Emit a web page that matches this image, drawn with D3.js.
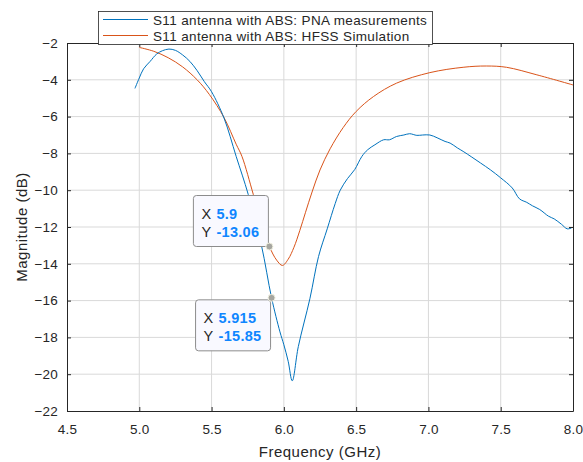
<!DOCTYPE html>
<html lang="en">
  <head>
    <meta charset="utf-8" />
    <title>S11 antenna with ABS</title>
    <script src="https://d3js.org/d3.v7.min.js"></script>
    <style>
      body {
        margin: 0;
        background: white;
      }
      text {
        font-family: "Liberation Sans", Arial, sans-serif;
        fill: #262626;
      }
      .tick-label {
        font-size: 13.5px;
        letter-spacing: 0.2px;
      }
      .axis-title {
        font-size: 15px;
        letter-spacing: 0.5px;
      }
      .legend-text {
        font-size: 13.5px;
        letter-spacing: 0.35px;
      }
      .grid line {
        stroke: #d9d9d9;
        stroke-width: 1;
      }
      .tip-label {
        font-size: 14.5px;
        letter-spacing: 0.3px;
      }
      .tip-value {
        font-size: 14.5px;
        letter-spacing: 0.3px;
        font-weight: bold;
        fill: #0f86ff;
      }
    </style>
  </head>
  <body>
    <svg width="583" height="462"></svg>
    <script>
      // PNA measurement (blue)
      const pnaFreq = [
        4.97, 5.0, 5.03, 5.075, 5.12, 5.16, 5.205, 5.25, 5.3, 5.35, 5.4, 5.45,
        5.5, 5.586, 5.67, 5.754, 5.845, 5.915, 5.973, 6.0, 6.03, 6.058, 6.1,
        6.18, 6.24, 6.3, 6.355, 6.39, 6.44, 6.49, 6.54, 6.58, 6.63, 6.69, 6.73,
        6.78, 6.83, 6.87, 6.92, 6.96, 7.01, 7.06, 7.115, 7.15, 7.2, 7.24, 7.3,
        7.36, 7.43, 7.5, 7.58, 7.63, 7.68, 7.72, 7.77, 7.83, 7.87, 7.92, 7.96,
        7.99,
      ];
      const pnaMag = [
        -4.47, -3.9, -3.4, -3.0, -2.6, -2.42, -2.33, -2.4, -2.65, -3.0, -3.5,
        -4.1, -4.65, -6.08, -8.16, -10.24, -13.0, -15.85, -17.7, -18.4, -19.3,
        -20.36, -18.5, -15.9, -13.6, -12.1, -10.73, -10.0, -9.37, -8.88, -8.16,
        -7.8, -7.53, -7.26, -7.26, -7.08, -7.0, -6.93, -7.02, -7.0, -7.0,
        -7.15, -7.35, -7.44, -7.7, -7.89, -8.2, -8.52, -8.9, -9.33, -9.88,
        -10.47, -10.66, -10.85, -11.05, -11.41, -11.56, -11.85, -12.1, -12.05,
      ];

      // HFSS simulation (orange)
      const hfssFreq = [
        5.0, 5.1, 5.2, 5.3, 5.4, 5.485, 5.586, 5.67, 5.71, 5.789, 5.85, 5.9,
        5.95, 5.99, 6.03, 6.07, 6.11, 6.15, 6.195, 6.25, 6.32, 6.41, 6.5, 6.62,
        6.78, 7.01, 7.24, 7.4, 7.54, 7.75, 8.0,
      ];
      const hfssMag = [
        -2.24, -2.45, -2.8, -3.3, -4.0, -4.8, -6.05, -7.5, -8.16, -10.24, -11.9,
        -13.06, -13.8, -14.09, -13.75, -13.1, -12.2, -11.2, -10.1, -8.9, -7.75,
        -6.6, -5.72, -4.91, -4.18, -3.61, -3.32, -3.25, -3.32, -3.73, -4.28,
      ];

      const seriesNames = [
        "S11 antenna with ABS: PNA measurements",
        "S11 antenna with ABS: HFSS Simulation",
      ];
      const seriesColors = ["#0072BD", "#D95319"];

      const xTicks = [4.5, 5, 5.5, 6, 6.5, 7, 7.5, 8];
      const yTicks = [-2, -4, -6, -8, -10, -12, -14, -16, -18, -20, -22];

      // data tips
      const tipX = [5.9, 5.915];
      const tipY = [-13.06, -15.85];
      const tipLabelX = ["5.9", "5.915"];
      const tipLabelY = ["-13.06", "-15.85"];

      const svg = d3.select("svg");
      const margin = { top: 43, right: 10, bottom: 51, left: 67 };
      const width = 583 - margin.left - margin.right;
      const height = 462 - margin.top - margin.bottom;

      const x = d3.scaleLinear().domain([4.5, 8]).range([0, width]);
      const y = d3.scaleLinear().domain([-22, -2]).range([height, 0]);

      const g = svg
        .append("g")
        .attr("transform", `translate(${margin.left},${margin.top})`);

      // grid
      const grid = g.append("g").attr("class", "grid");
      grid
        .selectAll(".gx")
        .data(xTicks.slice(1, -1))
        .join("line")
        .attr("x1", (d) => x(d))
        .attr("x2", (d) => x(d))
        .attr("y1", 0)
        .attr("y2", height);
      grid
        .selectAll(".gy")
        .data(yTicks.slice(1, -1))
        .join("line")
        .attr("x1", 0)
        .attr("x2", width)
        .attr("y1", (d) => y(d))
        .attr("y2", (d) => y(d));

      // curves
      const pna = pnaFreq.map((f, i) => [f, pnaMag[i]]);
      const hfss = hfssFreq.map((f, i) => [f, hfssMag[i]]);

      const line = d3
        .line()
        .x((d) => x(d[0]))
        .y((d) => y(d[1]))
        .curve(d3.curveCatmullRom.alpha(0.5));

      g.append("path")
        .datum(hfss)
        .attr("fill", "none")
        .attr("stroke", seriesColors[1])
        .attr("stroke-width", 1)
        .attr("d", line);

      g.append("path")
        .datum(pna)
        .attr("fill", "none")
        .attr("stroke", seriesColors[0])
        .attr("stroke-width", 1)
        .attr("d", line);

      // axes, MATLAB style box with inward ticks
      const axisColor = "#262626";
      const xAxis = g
        .append("g")
        .attr("transform", `translate(0,${height})`)
        .call(d3.axisBottom(x).tickValues(xTicks).tickSizeInner(-4).tickSizeOuter(0).tickPadding(13));
      const xTop = g
        .append("g")
        .call(d3.axisTop(x).tickValues(xTicks).tickSizeInner(-4).tickSizeOuter(0).tickFormat(""));
      const yAxis = g
        .append("g")
        .call(d3.axisLeft(y).tickValues(yTicks).tickSizeInner(-4).tickSizeOuter(0).tickPadding(9));
      const yRight = g
        .append("g")
        .attr("transform", `translate(${width},0)`)
        .call(d3.axisRight(y).tickValues(yTicks).tickSizeInner(-4).tickSizeOuter(0).tickFormat(""));

      [xAxis, xTop, yAxis, yRight].forEach((a) => {
        a.select(".domain").attr("stroke", axisColor);
        a.selectAll(".tick line").attr("stroke", axisColor);
        a.selectAll(".tick text")
          .attr("class", "tick-label")
          .attr("fill", axisColor);
        a.attr("font-family", null).attr("font-size", null);
      });

      // axis titles
      svg
        .append("text")
        .attr("class", "axis-title")
        .attr("x", margin.left + width / 2)
        .attr("y", 457)
        .attr("text-anchor", "middle")
        .text("Frequency (GHz)");

      svg
        .append("text")
        .attr("class", "axis-title")
        .attr("transform", `translate(27,${margin.top + height / 2}) rotate(-90)`)
        .attr("text-anchor", "middle")
        .text("Magnitude (dB)");

      // data tips
      const tips = g.append("g");
      tipX.forEach((tx, i) => {
        const px = x(tx),
          py = y(tipY[i]);
        const bw = 75,
          bh = 51;
        // first tip box sits above-left of marker, second below-left
        const bx = px - bw - 1;
        const by = i === 0 ? py - bh : py + 2;
        tips
          .append("rect")
          .attr("x", bx)
          .attr("y", by)
          .attr("width", bw)
          .attr("height", bh)
          .attr("rx", 3)
          .attr("fill", "#f9f9ff")
          .attr("stroke", "#8c8c8c")
          .attr("stroke-width", 1);
        tips
          .append("text")
          .attr("class", "tip-label")
          .attr("x", bx + 8)
          .attr("y", by + 23)
          .text("X");
        tips
          .append("text")
          .attr("class", "tip-value")
          .attr("x", bx + 23)
          .attr("y", by + 23)
          .text(tipLabelX[i]);
        tips
          .append("text")
          .attr("class", "tip-label")
          .attr("x", bx + 8)
          .attr("y", by + 41)
          .text("Y");
        tips
          .append("text")
          .attr("class", "tip-value")
          .attr("x", bx + 23)
          .attr("y", by + 41)
          .text(tipLabelY[i]);
        tips
          .append("circle")
          .attr("cx", px)
          .attr("cy", py)
          .attr("r", 3.5)
          .attr("fill", "#a6a6a0")
          .attr("stroke", "#f0f0e0")
          .attr("stroke-width", 1);
      });

      // legend
      const legend = svg.append("g");
      legend
        .append("rect")
        .attr("x", 98.5)
        .attr("y", 11.5)
        .attr("width", 334)
        .attr("height", 33)
        .attr("fill", "white")
        .attr("stroke", axisColor)
        .attr("stroke-width", 0.8);
      seriesNames.forEach((name, i) => {
        const ly = 19.5 + i * 16;
        legend
          .append("line")
          .attr("x1", 103)
          .attr("x2", 148)
          .attr("y1", ly)
          .attr("y2", ly)
          .attr("stroke", seriesColors[i])
          .attr("stroke-width", 1);
        legend
          .append("text")
          .attr("class", "legend-text")
          .attr("x", 153)
          .attr("y", ly + 5)
          .text(name);
      });
    </script>
  </body>
</html>
